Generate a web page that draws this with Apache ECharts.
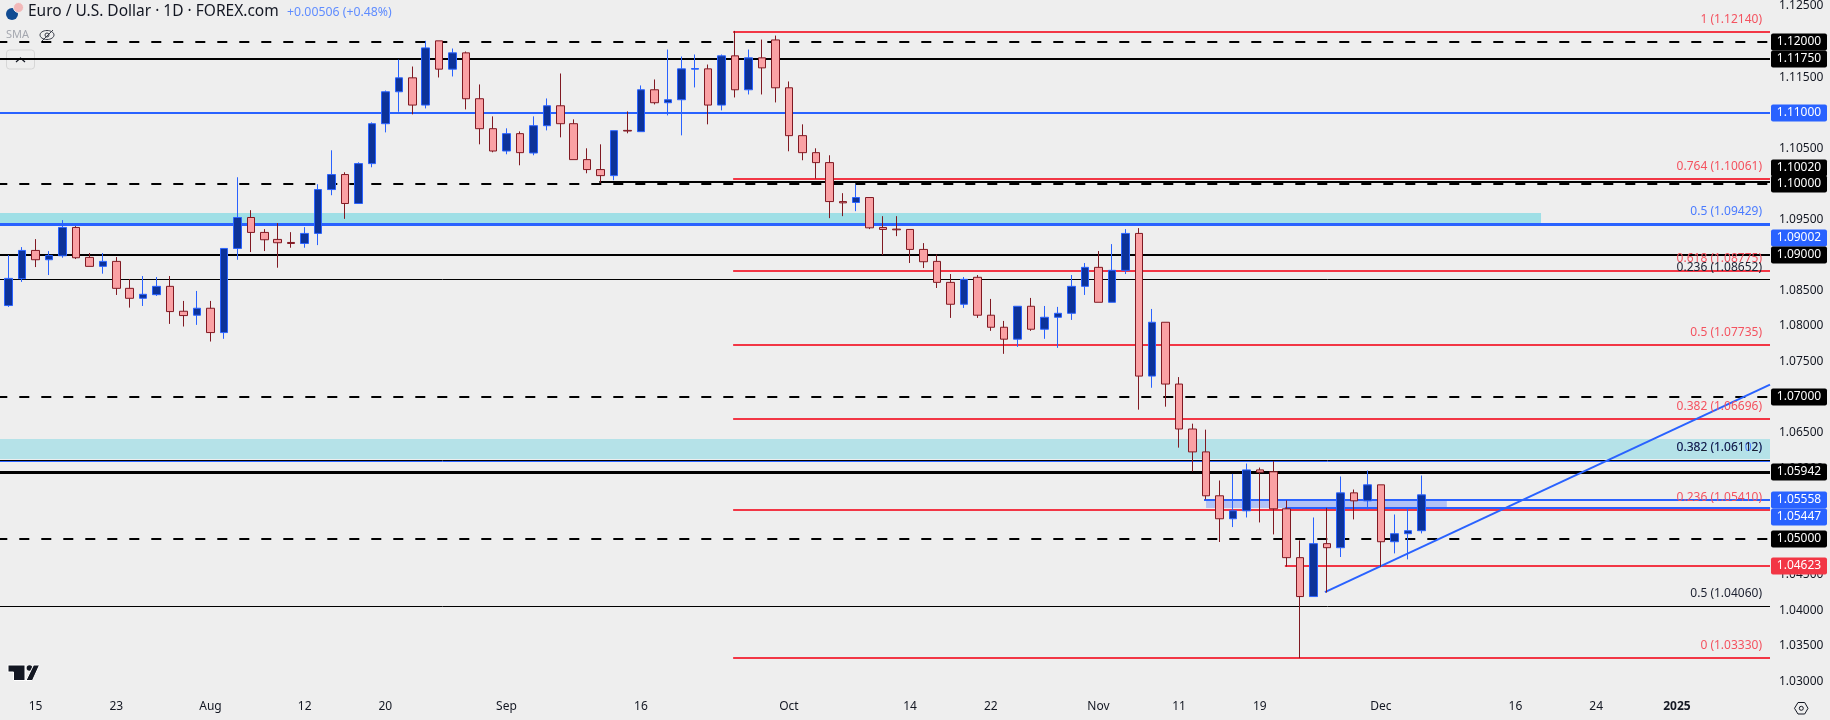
<!DOCTYPE html>
<html><head><meta charset="utf-8">
<style>html,body{margin:0;padding:0;background:#eeeeee}#c{width:1830px;height:720px}</style>
<script src="https://cdn.jsdelivr.net/npm/echarts@6/dist/echarts.min.js"></script>
</head><body><div id="c"></div>
<script>
// bar index 0 = 11 Jul 2024, trading days only
const xTickIndex = [2,8,15,22,28,37,47,58,67,73,81,87,93,102,112,118,124];
const xTickLabels = ['15','23','Aug','12','20','Sep','16','Oct','14','22','Nov','11','19','Dec','16','24','2025'];
const yTicks = [1.03,1.035,1.04,1.045,1.05,1.055,1.06,1.065,1.07,1.075,1.08,1.085,1.09,1.095,1.1,1.105,1.11,1.115,1.12,1.125];

const opens = [1.08288,1.08666,1.09063,1.08932,1.08988,1.09386,1.08965,1.08839,1.08909,1.0853,1.0839,1.08441,1.08558,1.08208,1.08152,1.0825,1.07908,1.09091,1.09526,1.09316,1.09218,1.09175,1.09161,1.09302,1.09919,1.1013,1.09723,1.10284,1.10845,1.11294,1.1149,1.11107,1.1201,1.11612,1.11841,1.11196,1.10775,1.10461,1.10705,1.10433,1.10817,1.11097,1.10845,1.1034,1.102,1.10115,1.10751,1.10733,1.11322,1.1114,1.11182,1.11612,1.11616,1.11107,1.11799,1.11322,1.11771,1.12023,1.1135,1.10677,1.10438,1.10298,1.0975,1.09737,1.09807,1.09386,1.09363,1.09358,1.09077,1.08909,1.08614,1.08306,1.08685,1.08152,1.07983,1.07815,1.08278,1.07955,1.08123,1.08179,1.08558,1.08825,1.08334,1.08783,1.09302,1.07296,1.08053,1.07184,1.06552,1.0623,1.05613,1.0529,1.05402,1.05977,1.0595,1.0543,1.04743,1.04196,1.0494,1.04883,1.05654,1.05542,1.05767,1.04967,1.0508,1.05122];
const closes = [1.0867,1.09063,1.08932,1.08993,1.09386,1.0896,1.08839,1.08909,1.0853,1.0839,1.08446,1.08558,1.08203,1.08147,1.0825,1.07908,1.09091,1.09526,1.09316,1.09213,1.09171,1.09161,1.09302,1.09919,1.1013,1.09723,1.10284,1.10845,1.11294,1.1149,1.11107,1.11911,1.11612,1.11841,1.11196,1.10775,1.10461,1.10705,1.10438,1.10817,1.11097,1.10845,1.1034,1.102,1.10115,1.10747,1.10742,1.11322,1.1114,1.11182,1.11616,1.11621,1.11107,1.11799,1.11322,1.11771,1.1163,1.1135,1.10677,1.10438,1.10298,1.0975,1.09732,1.09807,1.09381,1.09358,1.09353,1.09077,1.08904,1.08614,1.08306,1.08656,1.08152,1.07983,1.07815,1.08278,1.07955,1.08123,1.08179,1.08558,1.08825,1.08334,1.08783,1.09302,1.07296,1.08053,1.07184,1.06552,1.0623,1.05613,1.0529,1.05402,1.05977,1.05945,1.0543,1.04743,1.04196,1.0494,1.04883,1.05654,1.05542,1.05767,1.04967,1.0508,1.05122,1.05626];
const lows = [1.08269,1.0862,1.08829,1.08717,1.0896,1.08942,1.08839,1.08736,1.08437,1.08259,1.08282,1.08423,1.0803,1.07993,1.08016,1.07782,1.0782,1.08932,1.0904,1.09054,1.0882,1.09101,1.09101,1.09138,1.09839,1.09507,1.09723,1.10232,1.10723,1.11013,1.10976,1.1106,1.11495,1.11509,1.11046,1.10555,1.10443,1.10415,1.1026,1.10401,1.10751,1.10653,1.1034,1.10148,1.10013,1.1005,1.1071,1.10733,1.11116,1.10962,1.10681,1.11355,1.10836,1.11032,1.11214,1.11256,1.11256,1.11144,1.10457,1.10331,1.10073,1.09517,1.09545,1.09615,1.09363,1.08998,1.09264,1.08886,1.08815,1.08535,1.08114,1.08254,1.08114,1.07932,1.07609,1.07707,1.07932,1.0782,1.07693,1.08086,1.08437,1.08334,1.08334,1.08731,1.06824,1.07132,1.06866,1.0629,1.05954,1.05561,1.04963,1.05173,1.05308,1.05238,1.0507,1.04617,1.03331,1.04196,1.04252,1.04752,1.05281,1.0542,1.04612,1.04803,1.04719,1.05084];
const highs = [1.08998,1.0911,1.09222,1.09054,1.09489,1.09405,1.09026,1.09026,1.0897,1.08661,1.08703,1.08689,1.08703,1.08353,1.08493,1.08353,1.09091,1.10092,1.09629,1.09363,1.09447,1.0932,1.09391,1.09994,1.10471,1.10162,1.10302,1.10864,1.11312,1.11747,1.11649,1.1201,1.1201,1.11902,1.1186,1.11397,1.10948,1.1078,1.10737,1.10948,1.112,1.11551,1.10906,1.10499,1.10555,1.10747,1.11018,1.11383,1.11467,1.11888,1.1179,1.11818,1.11677,1.11818,1.1215,1.11888,1.12028,1.12084,1.11439,1.10836,1.10499,1.10401,1.09868,1.09989,1.09807,1.09545,1.09545,1.09358,1.09166,1.09007,1.08731,1.08689,1.08717,1.08381,1.08072,1.08278,1.08395,1.08282,1.08269,1.08717,1.08886,1.09054,1.09152,1.09363,1.09377,1.0824,1.08053,1.07282,1.06627,1.06543,1.05828,1.05921,1.06066,1.0601,1.061,1.05547,1.04986,1.05308,1.05444,1.05884,1.05701,1.05968,1.05767,1.0535,1.0543,1.05898];

// horizontal drawn levels: price and the bar index each one starts from
const levelPrices = [1.1214,1.12,1.1175,1.11,1.10061,1.1002,1.1,1.09429,1.09,1.08775,1.08652,1.07735,1.07,1.06696,1.06112,1.0609,1.05942,1.05558,1.05447,1.0541,1.05,1.04623,1.0406,1.0333];
const levelStarts = [53.85,-1,-1,-1,53.85,43.9,-1,-1,-1,53.85,-1,53.85,-1,53.85,-1,-1,-1,88.85,94.86,53.85,-1,94.86,-1,53.85];
const levelKinds  = ['red','dash','black','blue','red','black','dash','blue3','black','red','thin','red','dash','red','thin','bluethin','black3','blue','blue','red','dash','red','thin','red'];

// shaded zones: start bar, end bar, low price, high price
const zoneStarts = [-1,-1,89];
const zoneEnds   = [113.9,131,106.9];
const zoneLows   = [1.09429,1.06125,1.05447];
const zoneHighs  = [1.09587,1.06417,1.05558];

// rising trend line
const trendBars = [97.84,130.92];
const trendPrices = [1.04257,1.07175];

// Fibonacci captions: text, price of the level they sit on
const fibTexts  = ['1 (1.12140)','0.764 (1.10061)','0.5 (1.09429)','0.618 (1.08775)','0.236 (1.08652)','0.5 (1.07735)','0.382 (1.06696)','0.382 (1.06102)','0.382 (1.06112)','0.236 (1.05410)','0.5 (1.04060)','0 (1.03330)'];
const fibPrices = [1.1214,1.10061,1.09429,1.08775,1.08652,1.07735,1.06696,1.06112,1.06112,1.0541,1.0406,1.0333];
const fibKinds  = ['red','red','blue','red','black','red','red','blue','black','red','black','red'];

// axis price tags: text, price position on the axis (stacked tags get pushed apart)
const tagTexts = ['1.12000','1.11750','1.11000','1.10020','1.10000','1.09002','1.09000','1.07000','1.05942','1.05558','1.05447','1.05000','1.04623'];
const tagPos   = [1.12,1.1175,1.11,1.10228,1.1,1.09237,1.09,1.07,1.05942,1.05558,1.05319,1.05,1.04623];
const tagKinds = ['black','black','blue','black','black','blue','black','black','black','blue','blue','black','red'];

const FONT = '"Noto Sans", Roboto, sans-serif';
const INK = '#131722', RED = '#f23645', BLUE = '#2962ff';
const X_MIN = -0.644, X_MAX = 130.92, Y_MIN = 1.02868, Y_MAX = 1.12561;
const kinds = {
  red:{stroke:RED,w:2}, blue:{stroke:BLUE,w:2}, blue3:{stroke:BLUE,w:3}, bluethin:{stroke:BLUE,w:1},
  black:{stroke:'#000',w:2}, black3:{stroke:'#000',w:3}, thin:{stroke:'#000',w:1}, dash:{stroke:'#000',w:2,dash:[10,12]}
};
const zoneColors = ['#9fdfe6','#b5e2e8','#b2c3f5'];
const fibColors = {red:'#f4525f',blue:'#4a7bff',black:'#1c2030'};
const tagColors = {red:RED,blue:BLUE,black:'#000'};
const snap = (v,w)=> w%2 ? Math.floor(v)+0.5 : Math.round(v);

const candleData = opens.map((o,i)=>[i,o,closes[i],lows[i],highs[i]]);

const chart = echarts.init(document.getElementById('c'),null,{renderer:'canvas'});
chart.setOption({
  animation:false,
  backgroundColor:'#eeeeee',
  grid:{left:0,right:60,top:0,bottom:29,containLabel:false},
  xAxis:{type:'value',min:X_MIN,max:X_MAX,splitLine:{show:false},axisLine:{show:false},axisTick:{show:false},
    axisLabel:{customValues:xTickIndex,margin:10,color:INK,fontSize:12,fontFamily:FONT,
      formatter:v=>{const t=xTickLabels[xTickIndex.indexOf(Math.round(v))]||'';return t==='2025'?'{b|2025}':t;},
      rich:{b:{fontWeight:'bold',fontSize:12,fontFamily:FONT,color:INK}}}},
  yAxis:{type:'value',position:'right',min:Y_MIN,max:Y_MAX,splitLine:{show:false},axisLine:{show:false},axisTick:{show:false},
    axisLabel:{customValues:yTicks,margin:9,color:INK,fontSize:12,fontFamily:FONT,formatter:v=>v.toFixed(5)}},
  series:[
    {type:'custom',name:'zones',z:1,silent:true,encode:{x:[0,1],y:[2,3]},
      data:zoneStarts.map((s,i)=>[s,zoneEnds[i],zoneLows[i],zoneHighs[i]]),
      renderItem:(p,api)=>{
        const a=api.coord([api.value(0),api.value(3)]),b=api.coord([api.value(1),api.value(2)]);
        const r=p.coordSys;
        const x1=Math.max(a[0],r.x),x2=Math.min(b[0],r.x+r.width);
        return {type:'rect',shape:{x:x1,y:Math.round(a[1]),width:x2-x1,height:Math.round(b[1])-Math.round(a[1])},style:{fill:zoneColors[p.dataIndex]}};
      }},
    {type:'custom',name:'levels',z:2,silent:true,encode:{x:0,y:1},
      data:levelPrices.map((v,i)=>[levelStarts[i],v]),
      renderItem:(p,api)=>{
        const k=kinds[levelKinds[p.dataIndex]],r=p.coordSys;
        const a=api.coord([api.value(0),api.value(1)]);
        const y=snap(a[1],k.w),x1=Math.max(a[0],k.dash?-2.7:r.x);
        return {type:'line',shape:{x1:x1,y1:y,x2:r.x+r.width,y2:y},
          style:{stroke:k.stroke,lineWidth:k.w,lineDash:k.dash||null}};
      }},
    {type:'line',name:'trend',z:3,silent:true,symbol:'none',lineStyle:{color:BLUE,width:2},
      data:trendBars.map((b,i)=>[b,trendPrices[i]])},
    {type:'candlestick',name:'EUR/USD',z:4,barWidth:8,encode:{x:0,y:[1,2,3,4]},
      itemStyle:{color:'#0c3299',color0:'#faa1a4',borderColor:BLUE,borderColor0:'#801922',borderWidth:1},
      data:candleData},
    {type:'custom',name:'fib captions',z:5,silent:true,encode:{x:0,y:1},
      data:fibPrices.map(v=>[X_MAX,v]),
      renderItem:(p,api)=>{
        const a=api.coord([X_MAX,api.value(1)]);
        return {type:'text',style:{x:a[0]-8,y:Math.round(a[1])-12,text:fibTexts[p.dataIndex],align:'right',verticalAlign:'middle',
          fill:fibColors[fibKinds[p.dataIndex]],fontSize:12,fontFamily:FONT}};
      }},
    {type:'custom',name:'price tags',z:6,silent:true,clip:false,encode:{y:1},
      data:tagPos.map(v=>[X_MAX,v]),
      renderItem:(p,api)=>{
        const a=api.coord([X_MAX,api.value(1)]);
        const cy=Math.round(a[1]),i=p.dataIndex;
        return {type:'group',children:[
          {type:'rect',shape:{x:a[0]+1,y:cy-8.5,width:56,height:17,r:2},style:{fill:tagColors[tagKinds[i]]}},
          {type:'text',style:{x:a[0]+29,y:cy,text:tagTexts[i],align:'center',verticalAlign:'middle',fill:'#fff',fontSize:12,fontFamily:FONT}}
        ]};
      }}
  ],
  graphic:[
    {type:'text',left:28,top:4,style:{text:'Euro / U.S. Dollar · 1D · FOREX.com',fill:INK,fontSize:15.5,fontFamily:FONT}},
    {type:'text',left:287,top:6,style:{text:'+0.00506 (+0.48%)',fill:'#5f8cff',fontSize:12.3,fontFamily:FONT}},
    {type:'circle',shape:{cx:12,cy:14,r:6},style:{fill:'#114c93'}},
    {type:'circle',shape:{cx:18.5,cy:7.5,r:5},style:{fill:'#f2b8b8',stroke:'#eeeeee',lineWidth:1}},
    {type:'text',left:6,top:29,style:{text:'SMA',fill:'#a5a8b0',fontSize:11,fontFamily:FONT}},
    {type:'ellipse',shape:{cx:47,cy:35,rx:7,ry:4.5},style:{fill:'none',stroke:'#3a3e4a',lineWidth:1}},
    {type:'circle',shape:{cx:47,cy:35,r:2},style:{fill:'none',stroke:'#3a3e4a',lineWidth:1}},
    {type:'line',shape:{x1:42,y1:41,x2:53,y2:30},style:{stroke:'#3a3e4a',lineWidth:1}},
    {type:'rect',shape:{x:6.5,y:50,width:28,height:19,r:3},style:{fill:'#eeeeee',stroke:'#d6d6d6',lineWidth:1}},
    {type:'polyline',shape:{points:[[16,62],[20.5,58],[25,62]]},style:{fill:'none',stroke:INK,lineWidth:1.2}},
    {type:'polygon',shape:{points:[[8,665],[25,665],[25,680.5],[13.5,680.5],[13.5,672],[8,672]]},style:{fill:INK,stroke:'#fff',lineWidth:1}},
    {type:'circle',shape:{cx:29.5,cy:668,r:2.8},style:{fill:INK}},
    {type:'polygon',shape:{points:[[33.5,665],[39.5,665],[32.5,680.5],[26,680.5]]},style:{fill:INK,stroke:'#fff',lineWidth:1}},
    {type:'polygon',shape:{points:[[1794.5,708.3],[1798,702.5],[1804.7,702.5],[1808,708.3],[1804.7,714],[1798,714]]},style:{fill:'none',stroke:INK,lineWidth:1}},
    {type:'circle',shape:{cx:1801.3,cy:708.3,r:2},style:{fill:'none',stroke:INK,lineWidth:1}}
  ]
});
</script></body></html>
